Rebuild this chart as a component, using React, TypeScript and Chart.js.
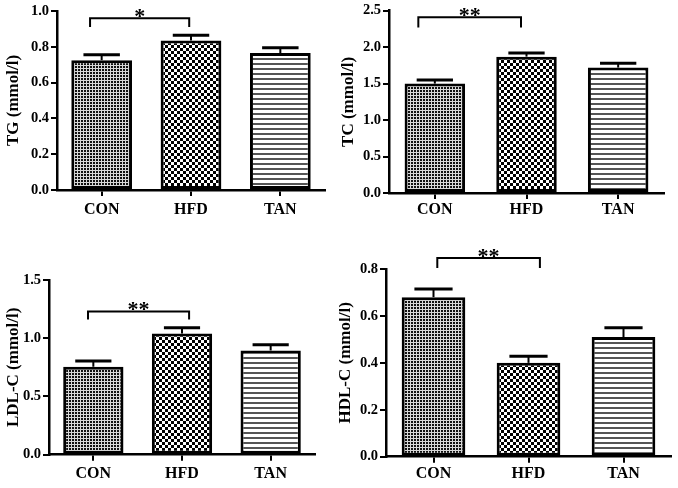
import { useEffect, useRef } from "react";
import { Chart, registerables } from "chart.js";
Chart.register(...registerables);

// ---------- data ----------
const categories = ["CON", "HFD", "TAN"];

const tgMean = [0.725, 0.835, 0.765];
const tgErr = [0.03, 0.03, 0.03];

const tcMean = [1.5, 1.87, 1.72];
const tcErr = [0.05, 0.05, 0.06];

const ldlMean = [0.755, 1.04, 0.895];
const ldlErr = [0.05, 0.05, 0.05];

const hdlMean = [0.68, 0.4, 0.51];
const hdlErr = [0.035, 0.028, 0.04];

const tgTicks = { max: 1.0, step: 0.2 };
const tcTicks = { max: 2.5, step: 0.5 };
const ldlTicks = { max: 1.5, step: 0.5 };
const hdlTicks = { max: 0.8, step: 0.2 };

// significance brackets: category-index span, level and foot in data units
const tgSig = { from: -0.13, to: 0.98, level: 0.96, foot: 0.91, label: "*" };
const tcSig = { from: -0.18, to: 0.94, level: 2.41, foot: 2.27, label: "**" };
const ldlSig = { from: -0.06, to: 1.08, level: 1.23, foot: 1.16, label: "**" };
const hdlSig = { from: 0.04, to: 1.12, level: 0.847, foot: 0.804, label: "**" };

const FONT = "'Liberation Serif', 'Times New Roman', serif";

type Panel = {
  title: string;
  mean: number[];
  err: number[];
  ticks: { max: number; step: number };
  sig: { from: number; to: number; level: number; foot: number; label: string };
  left: number;
  top: number;
  yw: number;
  xh: number;
  padTop: number;
  padRight: number;
  titlePad: number;
  xLabelPad: number;
  barPct: number;
};

const panels: Panel[] = [
  { title: "TG (mmol/l)", mean: tgMean, err: tgErr, ticks: tgTicks, sig: tgSig,
    left: 0, top: 0, yw: 57, xh: 54, padTop: 11, padRight: 14, titlePad: 5.5, xLabelPad: 4.5, barPct: 0.68 },
  { title: "TC (mmol/l)", mean: tcMean, err: tcErr, ticks: tcTicks, sig: tcSig,
    left: 339, top: 0, yw: 50, xh: 51, padTop: 10, padRight: 14, titlePad: 1.5, xLabelPad: 1.5, barPct: 0.66 },
  { title: "LDL-C (mmol/l)", mean: ldlMean, err: ldlErr, ticks: ldlTicks, sig: ldlSig,
    left: 0, top: 244, yw: 49, xh: 33.3, padTop: 36, padRight: 24, titlePad: 5.5, xLabelPad: 3.5, barPct: 0.68 },
  { title: "HDL-C (mmol/l)", mean: hdlMean, err: hdlErr, ticks: hdlTicks, sig: hdlSig,
    left: 339, top: 244, yw: 47, xh: 31.3, padTop: 25, padRight: 7, titlePad: -1.5, xLabelPad: 1.5, barPct: 0.67 },
];

function makePatterns(ctx: CanvasRenderingContext2D) {
  const tile = (w: number, h: number, draw: (c: CanvasRenderingContext2D) => void) => {
    const cv = document.createElement("canvas");
    cv.width = w;
    cv.height = h;
    const c = cv.getContext("2d")!;
    draw(c);
    return ctx.createPattern(cv, "repeat")!;
  };
  const fine = tile(3, 3, (c) => {
    c.fillStyle = "#d8d8d8";
    c.fillRect(0, 0, 3, 3);
    c.fillStyle = "#111";
    c.fillRect(0, 0, 2, 2);
  });
  const checker = tile(6, 6, (c) => {
    c.fillStyle = "#fff";
    c.fillRect(0, 0, 6, 6);
    c.fillStyle = "#000";
    c.fillRect(0, 0, 3, 3);
    c.fillRect(3, 3, 3, 3);
  });
  const stripes = tile(1, 5, (c) => {
    c.fillStyle = "#fff";
    c.fillRect(0, 0, 1, 5);
    c.fillStyle = "#555";
    c.fillRect(0, 3, 1, 2);
  });
  return [fine, checker, stripes];
}

function PanelChart({ p }: { p: Panel }) {
  const ref = useRef<HTMLCanvasElement>(null);
  useEffect(() => {
    const canvas = ref.current!;
    const ctx = canvas.getContext("2d")!;
    const fills = makePatterns(ctx);
    const annot = {
      id: "annot",
      afterDatasetsDraw(chart: any) {
        const c = chart.ctx as CanvasRenderingContext2D;
        const xs = chart.scales.x;
        const ys = chart.scales.y;
        const meta = chart.getDatasetMeta(0);
        c.save();
        c.strokeStyle = "#000";
        meta.data.forEach((bar: any, i: number) => {
          const yb = ys.getPixelForValue(p.mean[i]);
          const yt = ys.getPixelForValue(p.mean[i] + p.err[i]);
          const half = bar.width * 0.3;
          c.lineWidth = 2;
          c.beginPath();
          c.moveTo(bar.x, yb);
          c.lineTo(bar.x, yt);
          c.stroke();
          c.lineWidth = 3;
          c.beginPath();
          c.moveTo(bar.x - half, yt);
          c.lineTo(bar.x + half, yt);
          c.stroke();
        });
        const x1 = xs.getPixelForValue(p.sig.from);
        const x2 = xs.getPixelForValue(p.sig.to);
        const yl = ys.getPixelForValue(p.sig.level);
        const yf = ys.getPixelForValue(p.sig.foot);
        c.lineWidth = 2;
        c.beginPath();
        c.moveTo(x1, yf);
        c.lineTo(x1, yl);
        c.lineTo(x2, yl);
        c.lineTo(x2, yf);
        c.stroke();
        c.fillStyle = "#000";
        c.font = `bold 22px ${FONT}`;
        c.textAlign = "center";
        c.textBaseline = "alphabetic";
        c.fillText(p.sig.label, (x1 + x2) / 2, yl + 5);
        c.restore();
      },
    };
    const chart = new Chart(canvas, {
      type: "bar",
      data: {
        labels: categories,
        datasets: [
          {
            data: p.mean,
            backgroundColor: fills as any,
            borderColor: "#000",
            borderWidth: 3,
            borderSkipped: false,
            barPercentage: p.barPct,
            categoryPercentage: 1,
          },
        ],
      },
      options: {
        animation: false,
        responsive: false,
        maintainAspectRatio: false,
        events: [],
        layout: { padding: { top: p.padTop, right: p.padRight, left: 0, bottom: 0 } },
        plugins: { legend: { display: false }, tooltip: { enabled: false } },
        scales: {
          x: {
            grid: {
              display: true,
              drawOnChartArea: false,
              drawTicks: true,
              tickLength: 6,
              offset: false,
              color: "#000",
              lineWidth: 2,
            },
            border: { display: true, color: "#000", width: 2.5 },
            ticks: {
              color: "#000",
              padding: p.xLabelPad,
              font: { family: FONT, size: 16, weight: "bold" },
            },
            afterFit: (s: any) => {
              s.height = p.xh;
            },
          },
          y: {
            min: 0,
            max: p.ticks.max,
            grid: {
              display: true,
              drawOnChartArea: false,
              drawTicks: true,
              tickLength: 6,
              color: "#000",
              lineWidth: 2,
            },
            border: { display: true, color: "#000", width: 2.5 },
            ticks: {
              stepSize: p.ticks.step,
              color: "#000",
              padding: 2,
              font: { family: FONT, size: 14.5, weight: "bold" },
              callback: (v: any) => Number(v).toFixed(1),
            },
            title: {
              display: true,
              text: p.title,
              color: "#000",
              font: { family: FONT, size: 17, weight: "bold", lineHeight: 1 },
              padding: { top: p.titlePad, bottom: 0 },
            },
            afterFit: (s: any) => {
              s.width = p.yw;
            },
          },
        },
      },
      plugins: [annot],
    });
    return () => chart.destroy();
  }, [p]);
  return (
    <canvas
      ref={ref}
      width={339}
      height={244}
      style={{ position: "absolute", left: p.left, top: p.top, width: 339, height: 244 }}
    />
  );
}

export default function App() {
  return (
    <div
      style={{
        position: "absolute",
        left: 0,
        top: 0,
        width: 678,
        height: 488,
        background: "#fff",
        overflow: "hidden",
      }}
    >
      {panels.map((p, i) => (
        <PanelChart key={i} p={p} />
      ))}
    </div>
  );
}
